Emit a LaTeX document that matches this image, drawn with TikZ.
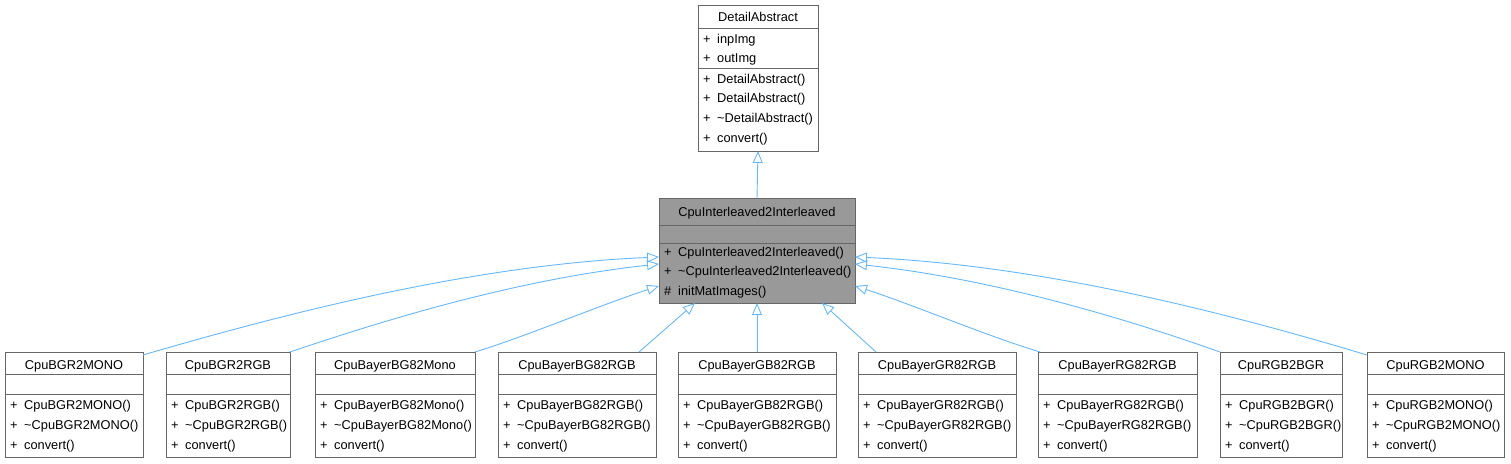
\documentclass[tikz,border=0pt]{standalone}
\usepackage{fontspec}
\setmainfont{Liberation Sans}
\usetikzlibrary{arrows.meta}
\definecolor{edgeblue}{HTML}{63B8FF}
\definecolor{boxline}{HTML}{666666}
\definecolor{curfill}{HTML}{999999}
\tikzset{
  classbox/.style={draw=boxline, line width=1pt, anchor=north west, inner sep=0pt, outer sep=0pt},
  title/.style={anchor=base, inner sep=0pt},
  member/.style={anchor=base west, inner sep=0pt},
  sep/.style={draw=boxline, line width=1pt},
  inherit/.style={draw=edgeblue, line width=0.9pt, -{Triangle[open, length=12pt, width=10pt]}}
}
\newcommand{\vis}[1]{\makebox[14pt][l]{#1}}
\begin{document}
\begin{tikzpicture}[x=1pt, y=-1pt, font=\fontsize{12.8pt}{15pt}\selectfont]
\useasboundingbox (0,0) rectangle (1511,463);
% base class
\node[classbox, minimum width=120pt, minimum height=146pt] (da) at (698,5) {};
\node[title] (da-t) at ([yshift=-16pt]da.north) {DetailAbstract};
\draw[sep] ([yshift=-23pt]da.north west) -- ([yshift=-23pt]da.north east);
\draw[sep] ([yshift=-63pt]da.north west) -- ([yshift=-63pt]da.north east);
\node[member] (da-a1) at ([xshift=5pt,yshift=-38.5pt]da.north west) {\vis{+}inpImg};
\node[member] (da-a2) at ([xshift=5pt,yshift=-57.5pt]da.north west) {\vis{+}outImg};
\node[member] (da-m1) at ([xshift=5pt,yshift=-78.5pt]da.north west) {\vis{+}DetailAbstract()};
\node[member] (da-m2) at ([xshift=5pt,yshift=-97.5pt]da.north west) {\vis{+}DetailAbstract()};
\node[member] (da-m3) at ([xshift=5pt,yshift=-117.5pt]da.north west) {\vis{+}\textasciitilde DetailAbstract()};
\node[member] (da-m4) at ([xshift=5pt,yshift=-137.5pt]da.north west) {\vis{+}convert()};
% current class
\node[classbox, fill=curfill, minimum width=196pt, minimum height=105pt] (ci) at (659,198) {};
\node[title] (ci-t) at ([yshift=-18.5pt]ci.north) {CpuInterleaved2Interleaved};
\draw[sep] ([yshift=-27pt]ci.north west) -- ([yshift=-27pt]ci.north east);
\draw[sep] ([yshift=-45pt]ci.north west) -- ([yshift=-45pt]ci.north east);
\node[member] (ci-m1) at ([xshift=5pt,yshift=-58.5pt]ci.north west) {\vis{+}CpuInterleaved2Interleaved()};
\node[member] (ci-m2) at ([xshift=5pt,yshift=-77.5pt]ci.north west) {\vis{+}\textasciitilde CpuInterleaved2Interleaved()};
\node[member] (ci-m3) at ([xshift=5pt,yshift=-97.5pt]ci.north west) {\vis{\#}initMatImages()};
\draw[inherit] (ci.north) -- (da.south);
% derived classes
\node[classbox, minimum width=138pt, minimum height=105pt] (bgrmono) at (5,352) {};
\node[title] (bgrmono-t) at ([yshift=-17pt]bgrmono.north) {CpuBGR2MONO};
\draw[sep] ([yshift=-22pt]bgrmono.north west) -- ([yshift=-22pt]bgrmono.north east);
\draw[sep] ([yshift=-42pt]bgrmono.north west) -- ([yshift=-42pt]bgrmono.north east);
\node[member] (bgrmono-1) at ([xshift=5pt,yshift=-57.5pt]bgrmono.north west) {\vis{+}CpuBGR2MONO()};
\node[member] (bgrmono-2) at ([xshift=5pt,yshift=-77.5pt]bgrmono.north west) {\vis{+}\textasciitilde CpuBGR2MONO()};
\node[member] (bgrmono-3) at ([xshift=5pt,yshift=-97.5pt]bgrmono.north west) {\vis{+}convert()};

\node[classbox, minimum width=124pt, minimum height=105pt] (bgrrgb) at (166,352) {};
\node[title] (bgrrgb-t) at ([yshift=-17pt]bgrrgb.north) {CpuBGR2RGB};
\draw[sep] ([yshift=-22pt]bgrrgb.north west) -- ([yshift=-22pt]bgrrgb.north east);
\draw[sep] ([yshift=-42pt]bgrrgb.north west) -- ([yshift=-42pt]bgrrgb.north east);
\node[member] (bgrrgb-1) at ([xshift=5pt,yshift=-57.5pt]bgrrgb.north west) {\vis{+}CpuBGR2RGB()};
\node[member] (bgrrgb-2) at ([xshift=5pt,yshift=-77.5pt]bgrrgb.north west) {\vis{+}\textasciitilde CpuBGR2RGB()};
\node[member] (bgrrgb-3) at ([xshift=5pt,yshift=-97.5pt]bgrrgb.north west) {\vis{+}convert()};

\node[classbox, minimum width=160pt, minimum height=105pt] (bg8mono) at (315,352) {};
\node[title] (bg8mono-t) at ([yshift=-17pt]bg8mono.north) {CpuBayerBG82Mono};
\draw[sep] ([yshift=-22pt]bg8mono.north west) -- ([yshift=-22pt]bg8mono.north east);
\draw[sep] ([yshift=-42pt]bg8mono.north west) -- ([yshift=-42pt]bg8mono.north east);
\node[member] (bg8mono-1) at ([xshift=5pt,yshift=-57.5pt]bg8mono.north west) {\vis{+}CpuBayerBG82Mono()};
\node[member] (bg8mono-2) at ([xshift=5pt,yshift=-77.5pt]bg8mono.north west) {\vis{+}\textasciitilde CpuBayerBG82Mono()};
\node[member] (bg8mono-3) at ([xshift=5pt,yshift=-97.5pt]bg8mono.north west) {\vis{+}convert()};

\node[classbox, minimum width=158pt, minimum height=105pt] (bg8rgb) at (498,352) {};
\node[title] (bg8rgb-t) at ([yshift=-17pt]bg8rgb.north) {CpuBayerBG82RGB};
\draw[sep] ([yshift=-22pt]bg8rgb.north west) -- ([yshift=-22pt]bg8rgb.north east);
\draw[sep] ([yshift=-42pt]bg8rgb.north west) -- ([yshift=-42pt]bg8rgb.north east);
\node[member] (bg8rgb-1) at ([xshift=5pt,yshift=-57.5pt]bg8rgb.north west) {\vis{+}CpuBayerBG82RGB()};
\node[member] (bg8rgb-2) at ([xshift=5pt,yshift=-77.5pt]bg8rgb.north west) {\vis{+}\textasciitilde CpuBayerBG82RGB()};
\node[member] (bg8rgb-3) at ([xshift=5pt,yshift=-97.5pt]bg8rgb.north west) {\vis{+}convert()};

\node[classbox, minimum width=158pt, minimum height=105pt] (gb8rgb) at (678,352) {};
\node[title] (gb8rgb-t) at ([yshift=-17pt]gb8rgb.north) {CpuBayerGB82RGB};
\draw[sep] ([yshift=-22pt]gb8rgb.north west) -- ([yshift=-22pt]gb8rgb.north east);
\draw[sep] ([yshift=-42pt]gb8rgb.north west) -- ([yshift=-42pt]gb8rgb.north east);
\node[member] (gb8rgb-1) at ([xshift=5pt,yshift=-57.5pt]gb8rgb.north west) {\vis{+}CpuBayerGB82RGB()};
\node[member] (gb8rgb-2) at ([xshift=5pt,yshift=-77.5pt]gb8rgb.north west) {\vis{+}\textasciitilde CpuBayerGB82RGB()};
\node[member] (gb8rgb-3) at ([xshift=5pt,yshift=-97.5pt]gb8rgb.north west) {\vis{+}convert()};

\node[classbox, minimum width=158pt, minimum height=105pt] (gr8rgb) at (858,352) {};
\node[title] (gr8rgb-t) at ([yshift=-17pt]gr8rgb.north) {CpuBayerGR82RGB};
\draw[sep] ([yshift=-22pt]gr8rgb.north west) -- ([yshift=-22pt]gr8rgb.north east);
\draw[sep] ([yshift=-42pt]gr8rgb.north west) -- ([yshift=-42pt]gr8rgb.north east);
\node[member] (gr8rgb-1) at ([xshift=5pt,yshift=-57.5pt]gr8rgb.north west) {\vis{+}CpuBayerGR82RGB()};
\node[member] (gr8rgb-2) at ([xshift=5pt,yshift=-77.5pt]gr8rgb.north west) {\vis{+}\textasciitilde CpuBayerGR82RGB()};
\node[member] (gr8rgb-3) at ([xshift=5pt,yshift=-97.5pt]gr8rgb.north west) {\vis{+}convert()};

\node[classbox, minimum width=159pt, minimum height=105pt] (rg8rgb) at (1038,352) {};
\node[title] (rg8rgb-t) at ([yshift=-17pt]rg8rgb.north) {CpuBayerRG82RGB};
\draw[sep] ([yshift=-22pt]rg8rgb.north west) -- ([yshift=-22pt]rg8rgb.north east);
\draw[sep] ([yshift=-42pt]rg8rgb.north west) -- ([yshift=-42pt]rg8rgb.north east);
\node[member] (rg8rgb-1) at ([xshift=5pt,yshift=-57.5pt]rg8rgb.north west) {\vis{+}CpuBayerRG82RGB()};
\node[member] (rg8rgb-2) at ([xshift=5pt,yshift=-77.5pt]rg8rgb.north west) {\vis{+}\textasciitilde CpuBayerRG82RGB()};
\node[member] (rg8rgb-3) at ([xshift=5pt,yshift=-97.5pt]rg8rgb.north west) {\vis{+}convert()};

\node[classbox, minimum width=122pt, minimum height=105pt] (rgbbgr) at (1220,352) {};
\node[title] (rgbbgr-t) at ([yshift=-17pt]rgbbgr.north) {CpuRGB2BGR};
\draw[sep] ([yshift=-22pt]rgbbgr.north west) -- ([yshift=-22pt]rgbbgr.north east);
\draw[sep] ([yshift=-42pt]rgbbgr.north west) -- ([yshift=-42pt]rgbbgr.north east);
\node[member] (rgbbgr-1) at ([xshift=5pt,yshift=-57.5pt]rgbbgr.north west) {\vis{+}CpuRGB2BGR()};
\node[member] (rgbbgr-2) at ([xshift=5pt,yshift=-77.5pt]rgbbgr.north west) {\vis{+}\textasciitilde CpuRGB2BGR()};
\node[member] (rgbbgr-3) at ([xshift=5pt,yshift=-97.5pt]rgbbgr.north west) {\vis{+}convert()};

\node[classbox, minimum width=137pt, minimum height=105pt] (rgbmono) at (1367,352) {};
\node[title] (rgbmono-t) at ([yshift=-17pt]rgbmono.north) {CpuRGB2MONO};
\draw[sep] ([yshift=-22pt]rgbmono.north west) -- ([yshift=-22pt]rgbmono.north east);
\draw[sep] ([yshift=-42pt]rgbmono.north west) -- ([yshift=-42pt]rgbmono.north east);
\node[member] (rgbmono-1) at ([xshift=5pt,yshift=-57.5pt]rgbmono.north west) {\vis{+}CpuRGB2MONO()};
\node[member] (rgbmono-2) at ([xshift=5pt,yshift=-77.5pt]rgbmono.north west) {\vis{+}\textasciitilde CpuRGB2MONO()};
\node[member] (rgbmono-3) at ([xshift=5pt,yshift=-97.5pt]rgbmono.north west) {\vis{+}convert()};
% inheritance edges
\draw[inherit] ([yshift=-3pt]bgrmono.north east) .. controls (280,315) and (470,265) .. ([yshift=-59pt]ci.north west);
\draw[inherit] (bgrrgb.north east) .. controls (370,325) and (510,280) .. ([yshift=-66pt]ci.north west);
\draw[inherit] (bg8mono.north east) .. controls (530,335) and (600,305) .. ([yshift=-88pt]ci.north west);
\draw[inherit] ([xshift=-17pt]bg8rgb.north east) -- ([xshift=-62pt]ci.south);
\draw[inherit] (gb8rgb.north) -- (ci.south);
\draw[inherit] ([xshift=18pt]gr8rgb.north west) -- ([xshift=65pt]ci.south);
\draw[inherit] ([xshift=2pt]rg8rgb.north west) .. controls (984,335) and (914,305) .. ([yshift=-88pt]ci.north east);
\draw[inherit] (rgbbgr.north west) .. controls (1144,325) and (1004,280) .. ([yshift=-66pt]ci.north east);
\draw[inherit] ([yshift=-3pt]rgbmono.north west) .. controls (1234,315) and (1044,265) .. ([yshift=-59pt]ci.north east);
\end{tikzpicture}
\end{document}
